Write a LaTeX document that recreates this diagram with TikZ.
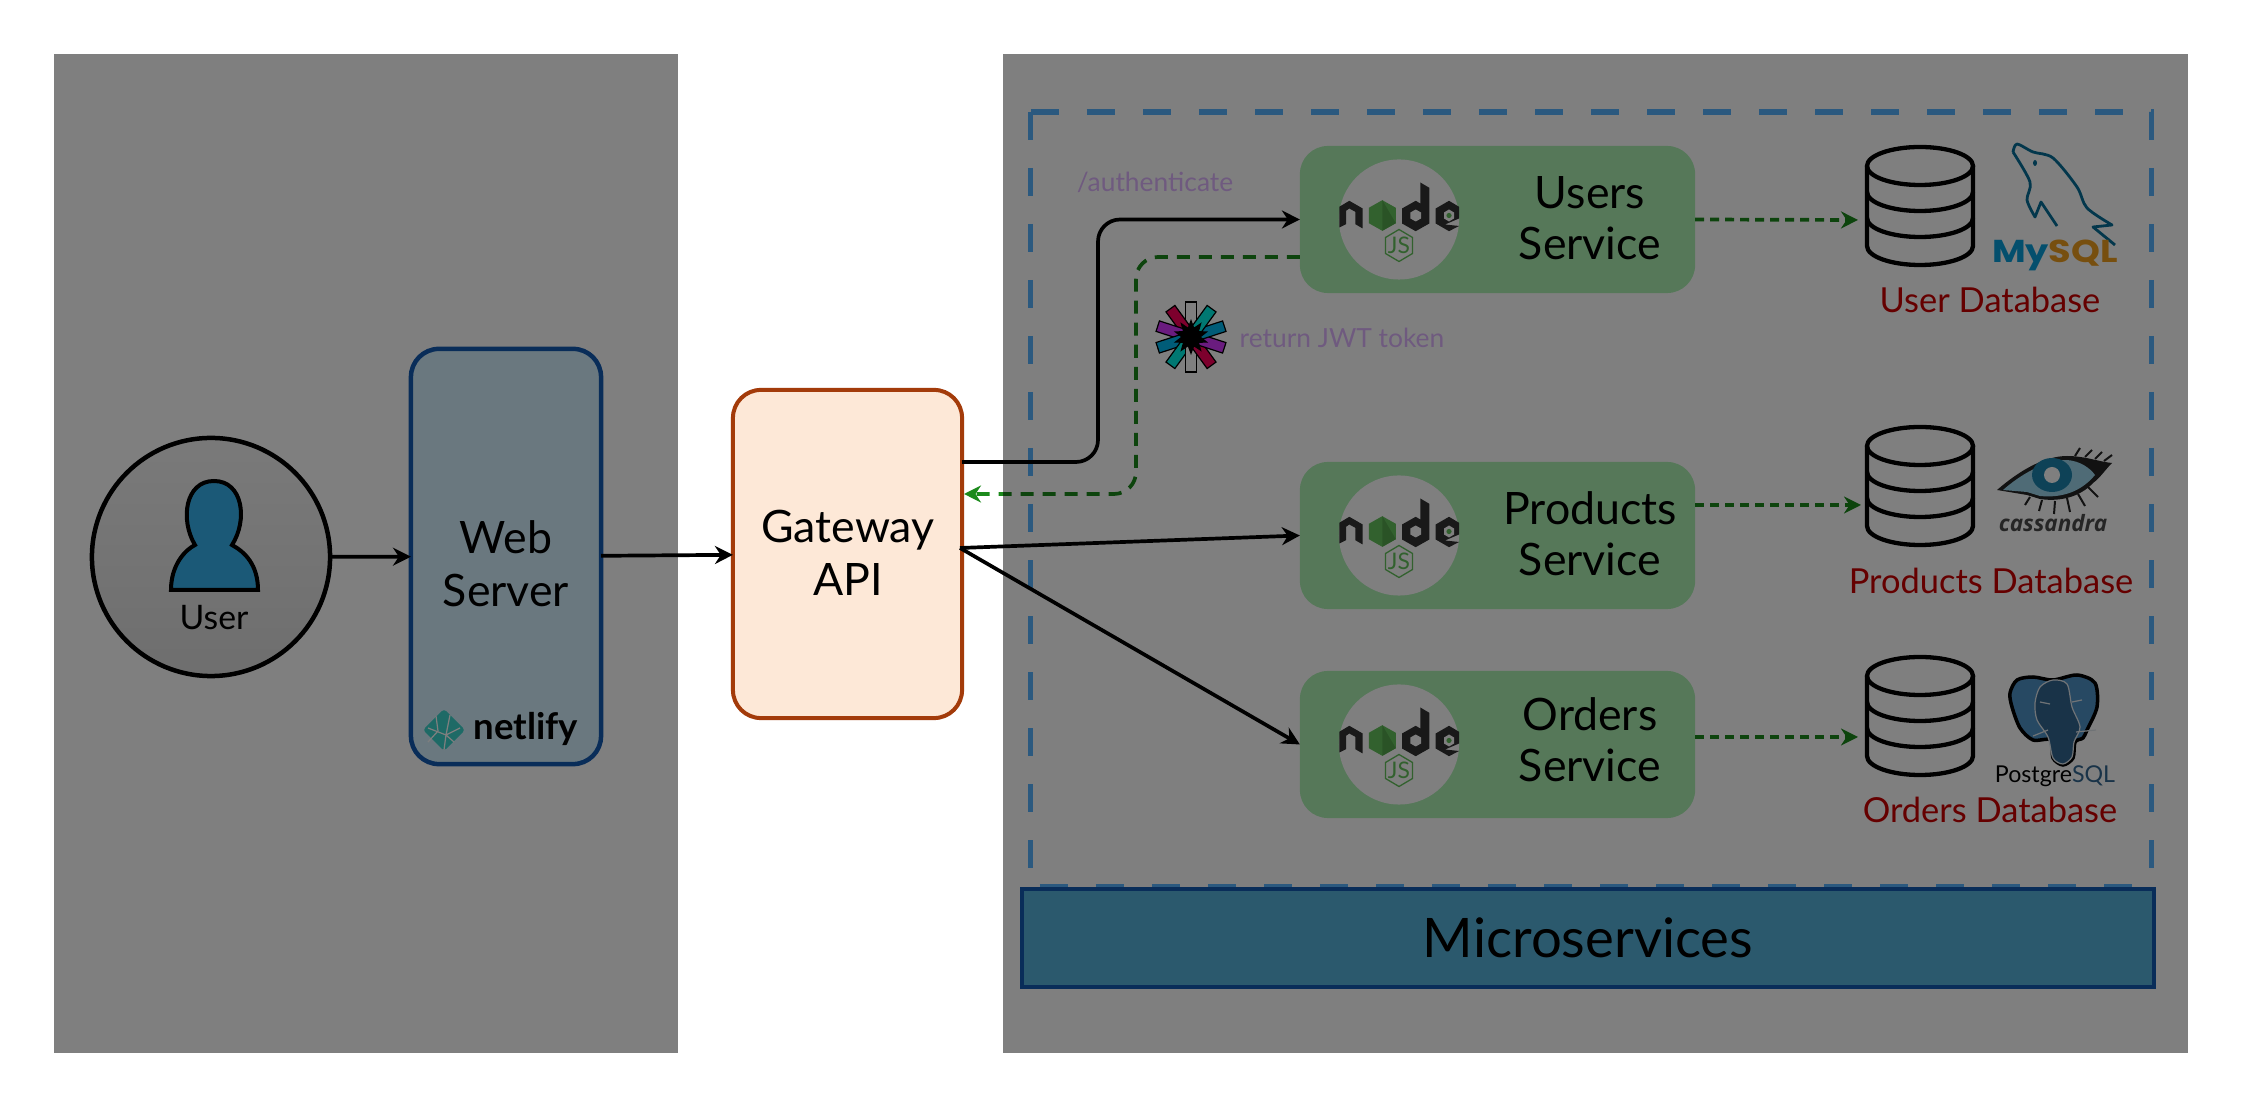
\documentclass[tikz,border=0pt]{standalone}
\usepackage{fontspec}
\setmainfont{Lato}
\newfontfamily\logofont{Open Sans}
\newfontfamily\mysqlfont{Poppins}
\usepackage{xcolor}
\usepackage{tikz}
\usetikzlibrary{positioning,calc,arrows.meta,shapes.geometric}

\definecolor{webfill}{HTML}{D6F2FF}
\definecolor{webline}{HTML}{145CB4}
\definecolor{gatefill}{HTML}{FDE8D7}
\definecolor{gateline}{HTML}{A33B0A}
\definecolor{svcfill}{HTML}{ADF2B4}
\definecolor{msfill}{HTML}{58B4DC}
\definecolor{userblue}{HTML}{38B4F0}
\definecolor{frameblue}{HTML}{58B4FF}
\definecolor{returngreen}{HTML}{1C8A1C}
\definecolor{labelpurple}{HTML}{DFB5FF}
\definecolor{dbred}{HTML}{CC0000}
\definecolor{nodegray}{HTML}{333333}
\definecolor{nodegreen}{HTML}{66C45E}
\definecolor{nodedark}{HTML}{56A84E}
\definecolor{sqlblue}{HTML}{0AA0DC}
\definecolor{sqlorange}{HTML}{F0A020}
\definecolor{pgblue}{HTML}{336791}
\definecolor{pgear}{HTML}{4F93C8}
\definecolor{eyeblue}{HTML}{9FD8EE}
\definecolor{irisblue}{HTML}{1E86B0}
\definecolor{netteal}{HTML}{3ED6CE}
\definecolor{jwtred}{HTML}{FB015B}
\definecolor{jwtpurple}{HTML}{D63AFF}
\definecolor{jwtblue}{HTML}{00B9F1}
\definecolor{jwtteal}{HTML}{00F2E6}

\tikzset{
	% Logo node.js, tam o vong tron trang
	pics/nodelogo/.style={code={
		\fill[nodegray] (-59.7,-12.7) -- (-49.7,-18.7) -- (-36.3,-11) -- (-36.3,9) -- (-43.7,4.7) -- (-43.7,-7.7) -- (-49.7,-11) -- (-53,-8.7) -- (-53,4.7) -- (-59.7,8) -- cycle;
		\fill[nodegreen] (-16.7,-19.3) -- (-3.2,-11.7) -- (-3.2,3.7) -- (-16.7,11.3) -- (-30.2,3.7) -- (-30.2,-11.7) -- cycle;
		\fill[nodedark] (-16.7,-19.3) -- (-3.2,3.7) -- (-16.7,11.3) -- cycle;
		\fill[nodegray] (21.3,-37) -- (30.3,-31.7) -- (30.3,4) -- (16.7,11.7) -- (3,4) -- (3,-11) -- (16.7,-18.7) -- (21.3,-16) -- cycle;
		\fill[white] (16.7,-10) -- (22,-7) -- (22,-1) -- (16.7,2) -- (11.4,-1) -- (11.4,-7) -- cycle;
		\fill[nodegray] (36.7,-11) -- (50,-18.7) -- (60,-12.7) -- (60,-1) -- (46,5) -- (60,6.5) -- (50,11.7) -- (36.7,4) -- cycle;
		\fill[white] (50,-10) -- (55,-7) -- (55,-1) -- (50,2) -- (45,-1) -- (45,-7) -- cycle;
		\fill[nodegreen] (50,-4) circle (2.6);
		\draw[nodegreen, line width=0.37pt] (0,10) -- (13.5,18) -- (13.5,34) -- (0,42) -- (-13.5,34) -- (-13.5,18) -- cycle;
		\node[font=\fontsize{6.5}{7}\selectfont, text=nodegreen, inner sep=0pt] (jstext) at (0,26) {JS};
	}},
	% Bieu tuong co so du lieu 3 tang
	pics/dbicon/.style={code={
		\draw[dbline] (-53,-40) -- (-53,40) arc[start angle=180, end angle=0, x radius=53, y radius=19] -- (53,-40);
		\draw[dbline] (0,-40) ellipse[x radius=53, y radius=19];
		\draw[dbline] (-53,-14) arc[start angle=180, end angle=0, x radius=53, y radius=19];
		\draw[dbline] (-53,12) arc[start angle=180, end angle=0, x radius=53, y radius=19];
	}}
}

\begin{document}
\begin{tikzpicture}[
	x=0.01cm, y=-0.01cm,
	webbox/.style={
		draw=webline, fill=webfill, outer sep=0pt,
		line width=0.045cm, rounded corners=0.28cm,
		minimum width=1.9cm, minimum height=4.15cm
	},
	gatebox/.style={
		draw=gateline, fill=gatefill, outer sep=0pt,
		line width=0.04cm, rounded corners=0.28cm,
		minimum width=2.29cm, minimum height=3.28cm
	},
	servicebox/.style={
		fill=svcfill, rounded corners=0.28cm, outer sep=0pt,
		minimum width=3.95cm, minimum height=1.47cm
	},
	servicecircle/.style={
		circle, fill=white, minimum size=1.2cm, inner sep=0pt
	},
	servicetext/.style={
		font=\fontsize{12.7}{14.6}\selectfont, align=center, inner sep=0pt
	},
	bigtext/.style={
		font=\fontsize{12.7}{15}\selectfont, align=center
	},
	dbnode/.style={
		minimum width=1.06cm, minimum height=1.18cm, inner sep=0pt
	},
	dbline/.style={
		line width=0.043cm, black
	},
	dblabel/.style={
		font=\fontsize{9.8}{12}\selectfont, text=dbred, inner sep=0pt
	},
	netlabel/.style={
		font=\fontsize{7.5}{9}\selectfont, text=labelpurple, inner sep=0pt
	},
	frameline/.style={
		draw=frameblue, line width=0.055cm, dash pattern=on 0.28cm off 0.28cm
	},
	arrow_call/.style={
		-{Stealth[length=0.18cm, width=0.18cm]},
		black, line width=0.037cm
	},
	arrow_return/.style={
		-{Stealth[length=0.17cm, width=0.17cm]},
		returngreen, line width=0.037cm,
		dash pattern=on 0.13cm off 0.09cm
	},
	arrow_db/.style={
		-{Stealth[length=0.17cm, width=0.17cm]},
		returngreen, line width=0.037cm,
		dash pattern=on 0.09cm off 0.06cm
	},
	dimpanel/.style={
		fill=black, fill opacity=0.5, inner sep=0pt, outer sep=0pt
	}
	]
	\useasboundingbox (0,0) rectangle (2242,1107);
	
	% --- Khung Microservices ---
	\node[minimum width=11.2cm, minimum height=7.75cm, inner sep=0pt, outer sep=0pt] (frame) at (1591,499.5) {};
	\draw[frameline] (frame.north west) -- (frame.north east) -- (frame.south east);
	\draw[frameline] (frame.north west) -- (frame.south west) -- (frame.south east);
	\node[draw=webline, fill=msfill, line width=0.04cm, minimum width=11.32cm, minimum height=0.97cm, font=\fontsize{15.5}{19}\selectfont] (micro) at (1588,938) {Microservices};
	
	% --- User ---
	\node[circle, draw=black, line width=0.045cm, top color=black!4, bottom color=black!13, minimum size=2.38cm, inner sep=0pt, outer sep=0pt] (user) at (211,557) {};
	\draw[line width=0.04cm, fill=userblue] (171,590) .. controls (171,565) and (185,550) .. (195,545) .. controls (180,520) and (185,481) .. (214,481) .. controls (243,481) and (248,520) .. (232,545) .. controls (245,552) and (258,565) .. (258,590) -- cycle;
	\node[font=\fontsize{9.6}{11}\selectfont, inner sep=0pt] (usertext) at (214,618) {User};
	
	% --- Web server + Gateway ---
	\node[webbox] (web) at (506,556.5) {};
	\node[bigtext] (webtext) at (506,563.5) {Web\\Server};
	\fill[netteal, rounded corners=0.03cm] (444,709) -- (465,730) -- (444,751) -- (423,730) -- cycle;
	\draw[white, line width=0.012cm] (428,728) -- (446,735) -- (460,728) (446,735) -- (444,750) (436,716) -- (438,731) (450,715) -- (446,735) (438,731) -- (428,742) (446,735) -- (454,742);
	\node[font=\bfseries\fontsize{10.4}{13}\selectfont, inner sep=0pt] (netlify) at (526,729) {netlify};
	\node[gatebox] (gateway) at (847.5,554) {};
	\node[bigtext] (gatewaytext) at (848,553) {Gateway\\API};
	
	% --- Cac service ---
	\foreach \name/\word/\ypos/\ytext in {users/Users/219.5/218, products/Products/535.5/534, orders/Orders/744.5/740} {
		\node[servicebox] (\name) at (1497.5,\ypos) {};
		\node[servicecircle] (\name-circle) at (1399,\ypos) {};
		\pic at (\name-circle) {nodelogo};
		\node[servicetext] (\name-text) at (1590,\ytext) {\word\\Service};
	}
	
	% --- Cac database ---
	\node[dbnode] (db1) at (1920,206) {};
	\pic at (db1) {dbicon};
	\node[dbnode] (db2) at (1920,486) {};
	\pic at (db2) {dbicon};
	\node[dbnode] (db3) at (1920,716) {};
	\pic at (db3) {dbicon};
	\node[dblabel] (db1-label) at (1990,300) {User Database};
	\node[dblabel] (db2-label) at (1991,581) {Products Database};
	\node[dblabel] (db3-label) at (1990,810) {Orders Database};
	
	% MySQL
	\draw[sqlblue!70!black, line width=0.028cm, line join=round] plot[smooth] coordinates {(2013,152) (2017,144) (2033,152) (2053,158) (2077,187) (2087,208) (2112,225)} -- (2093,227) -- (2115,245);
	\draw[sqlblue!70!black, line width=0.028cm, line join=round] plot[smooth] coordinates {(2013,152) (2030,182) (2027,200) (2035,217)} -- (2041,202) -- (2057,226);
	\fill[sqlblue!70!black] (2035,163) ellipse[x radius=2, y radius=3];
	\node[font=\mysqlfont\bfseries\fontsize{9}{10}\selectfont, inner sep=0pt] (mysql) at (2055,255) {\scalebox{1.16}[1]{\textcolor{sqlblue}{My}\textcolor{sqlorange}{SQL}}};
	
	% Cassandra
	\fill[black!85] (1997,490) .. controls (2020,470) and (2045,456) .. (2067,456) .. controls (2085,456) and (2100,462) .. (2112,463) .. controls (2105,470) and (2100,478) .. (2093,483) .. controls (2080,497) and (2060,502) .. (2040,499) -- (2027,495) -- cycle;
	\fill[eyeblue] (2003,490) .. controls (2020,475) and (2045,460) .. (2067,460) .. controls (2080,461) and (2090,468) .. (2095,475) .. controls (2080,493) and (2060,498) .. (2040,496) -- (2027,492) -- cycle;
	\fill[irisblue] (2052,475) ellipse[x radius=20, y radius=17];
	\fill[white] (2052,475) circle (8);
	\foreach \lx/\ly/\mx/\my in {2030/497/2025/505, 2042/500/2039/511, 2055/501/2054/514, 2067/498/2070/512, 2078/494/2085/506, 2088/487/2098/497, 2075/456/2080/448, 2085/457/2092/450, 2095/459/2102/452, 2104/461/2112/455} {
		\draw[black!85, line width=0.02cm] (\lx,\ly) -- (\mx,\my);
	}
	\node[font=\logofont\bfseries\itshape\fontsize{6.4}{8}\selectfont, text=black!70, inner sep=0pt] (cassandra) at (2053,523) {cassandra};
	
	% PostgreSQL
	\draw[black, fill=pgear, line width=0.035cm] plot[smooth cycle] coordinates {(2010,693) (2017,680) (2033,677) (2053,680) (2077,675) (2095,683) (2097,707) (2087,730) (2083,738) (2075,742) (2073,758) (2063,765) (2053,758) (2051,740) (2033,740) (2020,728) (2012,707)};
	\draw[white!85!pgblue, fill=pgblue, line width=0.012cm] plot[smooth cycle] coordinates {(2040,687) (2035,703) (2037,720) (2048,737) (2053,758) (2063,764) (2072,757) (2074,742) (2080,727) (2072,707) (2067,684) (2053,680)};
	\draw[white!85!pgblue, line width=0.012cm] (2040,702) -- (2050,704) (2072,702) -- (2082,700) (2033,736) -- (2048,730) (2076,732) -- (2096,730);
	\node[font=\fontsize{6.6}{8}\selectfont, inner sep=0pt] (postgres) at (2055,776) {Postgre\textcolor{pgblue}{SQL}};
	
	% --- Logo JWT ---
	\coordinate (jwt) at (1191,337);
	\foreach \ang/\col in {0/white, 36/jwtred, 72/jwtpurple, 108/jwtblue, 144/jwtteal, 180/white, 216/jwtred, 252/jwtpurple, 288/jwtblue, 324/jwtteal} {
		\fill[\col, draw=black, line width=0.012cm, rotate around={\ang:(jwt)}] ($(jwt)+(-5.5,-35)$) rectangle ($(jwt)+(5.5,-6)$);
	}
	\node[star, star points=10, star point ratio=1.8, fill=black, minimum size=0.36cm, inner sep=0pt] (jwtstar) at (jwt) {};
	
	% --- Nhan ---
	\node[netlabel] (auth) at (1155,182) {/authenticate};
	\node[netlabel] (jwtlabel) at (1342,338) {return JWT token};
	
	% --- Mui ten ---
	\coordinate (gw-top) at (962,462);
	\coordinate (gw-mid) at (960,548);
	\coordinate (gw-in) at (964,494);
	\coordinate (call-up) at (1098,219.5);
	\coordinate (call-low) at (1098,462);
	\coordinate (ret-up) at (1136,257);
	\coordinate (ret-low) at (1136,494);
	\coordinate (db1-in) at (1858,220);
	\coordinate (db2-in) at (1861,505);
	\coordinate (db3-in) at (1858,737);
	\draw[arrow_call] (user) -- (web);
	\draw[arrow_call] (web) -- (gateway);
	\draw[arrow_call, rounded corners=0.22cm] (gw-top) -- (call-low) -- (call-up) -- (users.west);
	\draw[arrow_return, rounded corners=0.22cm] (users.west |- ret-up) -- (ret-up) -- (ret-low) -- (gw-in);
	\draw[arrow_call] (gw-mid) -- (products.west);
	\draw[arrow_call] (gw-mid) -- (orders.west);
	\draw[arrow_db] (users.east) -- (db1-in);
	\draw[arrow_db] (products.east |- db2-in) -- (db2-in);
	\draw[arrow_db] (orders.east |- db3-in) -- (db3-in);
	
	% --- Hai tam phu xam ---
	\node[dimpanel, minimum width=6.24cm, minimum height=9.99cm] (panelleft) at (366,553.5) {};
	\node[dimpanel, minimum width=11.85cm, minimum height=9.99cm] (panelright) at (1595.5,553.5) {};
	
\end{tikzpicture}
\end{document}
